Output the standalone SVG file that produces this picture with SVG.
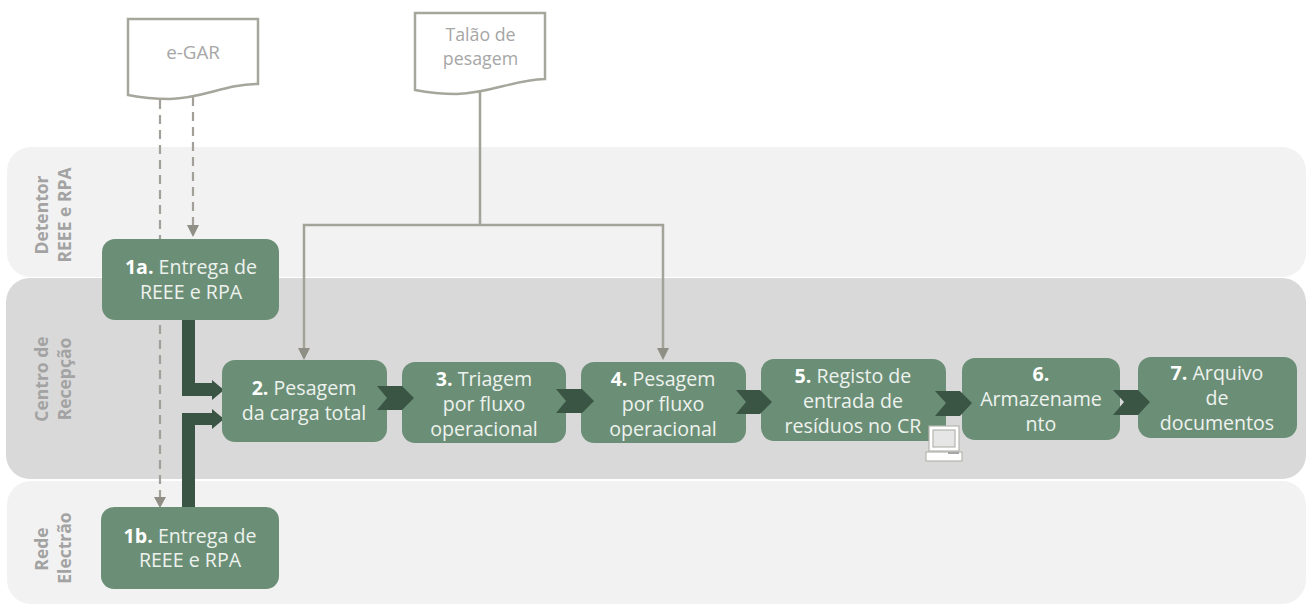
<svg xmlns="http://www.w3.org/2000/svg" width="1306" height="605" viewBox="0 0 1306 605">
<style>
text{font-family:"Open Sans","Noto Sans","Liberation Sans",sans-serif}
.n{fill:#6b8f76}
.t{font-size:19.6px;fill:#eef2ee;text-anchor:middle}
.t tspan.b{font-weight:700;fill:#fff}
.l{font-size:17.500px;font-weight:700;fill:#a3a3a3;text-anchor:middle}
.d{fill:#fff;stroke:#a6a69c;stroke-width:2.500}
.dt{font-size:17.8px;fill:#a6a6a6;text-anchor:middle}
.g{fill:none;stroke:#a3a399;stroke-width:2.500}
.da{fill:none;stroke:#a3a099;stroke-width:2.200;stroke-dasharray:9 6}
.h{fill:#8f8f85}
.k{fill:#3b5545}
</style>
<g id="bands">
<rect x="7" y="147" width="1299" height="130" rx="24" fill="#f2f2f2"/>
<rect x="7" y="481" width="1299" height="123" rx="24" fill="#f2f2f2"/>
<rect x="6" y="278" width="1300" height="201" rx="24" fill="#d9d9d9"/>
<text class="l" transform="translate(48,215) rotate(-90)">Detentor</text>
<text class="l" transform="translate(71,215) rotate(-90)">REEE e RPA</text>
<text class="l" transform="translate(48,379) rotate(-90)">Centro de</text>
<text class="l" transform="translate(71,379) rotate(-90)">Recepção</text>
<text class="l" transform="translate(48,549) rotate(-90)">Rede</text>
<text class="l" transform="translate(71,548) rotate(-90)">Electrão</text>
</g>
<g id="connectors">
<path class="da" d="M160 100V506"/>
<path class="da" d="M193 97V226"/>
<path class="h" d="M187 225H199L193 237ZM154 497H166L160 508Z"/>
<path class="g" d="M480 92V225M304 349V225H663V349"/>
<path class="h" d="M298 348H310L304 360ZM657 348H669L663 360Z"/>
<path class="k" d="M182 320H195V383H212V380L224 390L212 400V396H182Z"/>
<path class="k" d="M182 507V413H212V409L224 419L212 429V425H195V507Z"/>
</g>
<g id="doc-egar">
<path class="d" d="M128 19H258V84C225 84 205 98 170 99C150 99 138 97 128 95Z"/>
<text class="dt" x="193" y="59" style="font-size:18.8px">e-GAR</text>
</g>
<g id="doc-talao">
<path class="d" d="M415 13H545V79C512 80 492 93 457 94C437 94 425 92 415 90Z"/>
<text class="dt" x="480.500" y="41">Talão de</text>
<text class="dt" x="480.500" y="65">pesagem</text>
</g>
<g id="n1a">
<rect class="n" x="102" y="239" width="177" height="81" rx="13"/>
<text class="t" x="191" y="274"><tspan class="b">1a.</tspan> Entrega de</text>
<text class="t" x="191" y="299">REEE e RPA</text>
</g>
<g id="n1b">
<rect class="n" x="101" y="507" width="178" height="82" rx="13"/>
<text class="t" x="190" y="543"><tspan class="b">1b.</tspan> Entrega de</text>
<text class="t" x="190" y="567">REEE e RPA</text>
</g>
<g id="n2">
<rect class="n" x="222" y="360" width="165" height="82" rx="13"/>
<text class="t" x="304" y="395"><tspan class="b">2.</tspan> Pesagem</text>
<text class="t" x="304" y="420">da carga total</text>
</g>
<g id="n3">
<rect class="n" x="402" y="362" width="164" height="81" rx="13"/>
<text class="t" x="484" y="386"><tspan class="b">3.</tspan> Triagem</text>
<text class="t" x="484" y="411">por fluxo</text>
<text class="t" x="484" y="436">operacional</text>
</g>
<g id="n4">
<rect class="n" x="581" y="362" width="165" height="81" rx="13"/>
<text class="t" x="663" y="386"><tspan class="b">4.</tspan> Pesagem</text>
<text class="t" x="663" y="411">por fluxo</text>
<text class="t" x="663" y="436">operacional</text>
</g>
<g id="n5">
<rect class="n" x="761" y="359" width="185" height="82" rx="13"/>
<text class="t" x="853" y="383"><tspan class="b">5.</tspan> Registo de</text>
<text class="t" x="853" y="408">entrada de</text>
<text class="t" x="853" y="433">resíduos no CR</text>
</g>
<g id="n6">
<rect class="n" x="962" y="358" width="158" height="82" rx="13"/>
<text class="t" x="1041" y="381"><tspan class="b">6.</tspan></text>
<text class="t" x="1041" y="406">Armazename</text>
<text class="t" x="1041" y="431">nto</text>
</g>
<g id="n7">
<rect class="n" x="1138" y="357" width="159" height="81" rx="13"/>
<text class="t" x="1217" y="380"><tspan class="b">7.</tspan> Arquivo</text>
<text class="t" x="1217" y="405">de</text>
<text class="t" x="1217" y="430">documentos</text>
</g>
<g id="flow-chevrons">
<path class="k" d="M377 386H402L414 398L402 410H377L387 398Z"/>
<path class="k" d="M556 389H582L594 401L582 413H556L566 401Z"/>
<path class="k" d="M736 390H760L772 402L760 414H736L746 402Z"/>
<path class="k" d="M935 391H960L972 403L960 416H935L946 403Z"/>
<path class="k" d="M1113 390H1138L1150 402L1138 415H1113L1124 402Z"/>
</g>
<g id="computer" fill="#fff" stroke="#b5b5b0" stroke-width="1.200">
<rect x="929" y="426" width="30" height="25"/>
<rect x="933" y="430" width="22" height="17" fill="#e6e6e6"/>
<rect x="926" y="452" width="36" height="9"/>
<rect x="948" y="452" width="11" height="2" fill="#a6a6a6" stroke="none"/>
</g>
</svg>
